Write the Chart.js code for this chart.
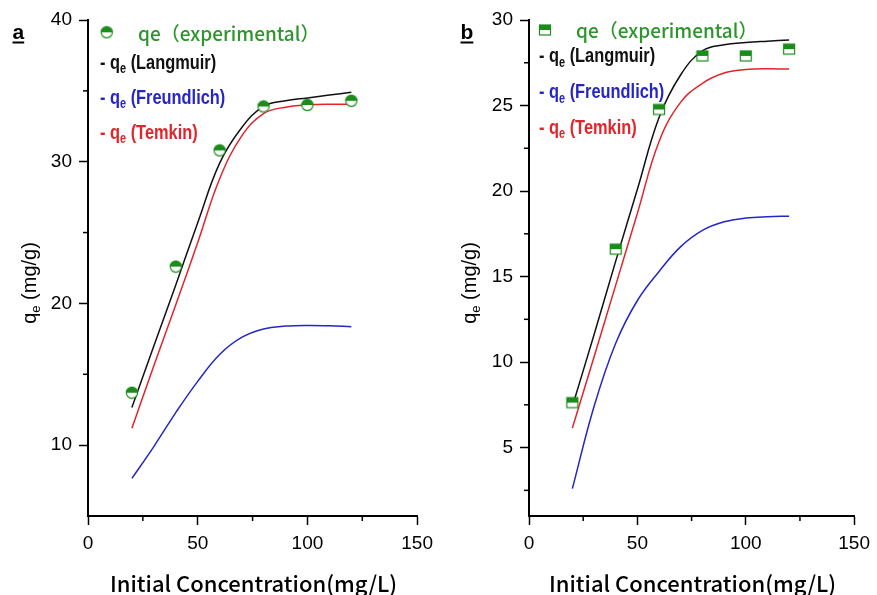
<!DOCTYPE html>
<html>
<head>
<meta charset="utf-8">
<script src="https://cdn.jsdelivr.net/npm/chart.js@4.4.1/dist/chart.umd.min.js"></script>
<style>
html, body { margin: 0; padding: 0; background: #fff; }
#wrap { position: relative; width: 877px; height: 595px; }
.pane { position: absolute; top: 0; }
#pa { left: 0; }
#pb { left: 440px; }
</style>
</head>
<body>
<div id="wrap">
  <div class="pane" id="pa"><canvas id="chartA" width="440" height="595"></canvas></div>
  <div class="pane" id="pb"><canvas id="chartB" width="437" height="595"></canvas></div>
</div>
<script>
// x values (initial concentration, mg/L)
var xExp = [20, 40, 60, 80, 100, 120];
var xFit = [20, 30, 40, 50, 60, 70, 80, 90, 100, 110, 120];

// panel a
var expA  = [13.7, 22.6, 30.8, 33.9, 34.0, 34.3];
var langA = [12.65, 17.0, 21.3, 25.7, 29.9, 32.4, 33.9, 34.3, 34.5, 34.7, 34.9];
var freuA = [7.65, 9.9, 12.3, 14.5, 16.4, 17.6, 18.2, 18.4, 18.45, 18.42, 18.36];
var temkA = [11.2, 15.6, 19.9, 24.3, 28.8, 31.8, 33.4, 33.85, 34.0, 34.05, 34.05];

// panel b
var expB  = [7.63, 16.6, 24.77, 27.9, 27.9, 28.3];
var langB = [7.4, 11.6, 15.9, 20.1, 24.3, 26.8, 28.2, 28.55, 28.68, 28.76, 28.83];
var freuB = [2.6, 7.4, 11.1, 13.6, 15.3, 16.75, 17.7, 18.2, 18.42, 18.5, 18.53];
var temkB = [6.14, 10.3, 14.5, 18.7, 22.9, 25.2, 26.3, 26.9, 27.1, 27.15, 27.13];

// ticks
var xTicks = [0, 50, 100, 150];
var xMinor = [25, 75, 125];
var yTicksA = [10, 20, 30, 40];
var yMinorA = [15, 25, 35];
var yTicksB = [5, 10, 15, 20, 25, 30];
var yMinorB = [2.5, 7.5, 12.5, 17.5, 22.5, 27.5];

var fitNames = ['Langmuir', 'Freundlich', 'Temkin'];
var xTitle = 'Initial Concentration(mg/L)';

var green = '#1b8c1b';
var greenText = '#2c962c';
var blue = '#2626c6';
var red = '#e2252b';
var tickFont = '"Liberation Sans", Arial, sans-serif';
var cjkFont = '"Noto Sans CJK JP", "Noto Sans", sans-serif';

function markerCanvas(kind) {
  var c = document.createElement('canvas');
  c.width = 14; c.height = 14;
  var g = c.getContext('2d');
  g.lineWidth = 1.2;
  g.strokeStyle = green;
  g.fillStyle = '#fff';
  if (kind === 'circle') {
    g.beginPath(); g.arc(7, 7, 5.6, 0, Math.PI * 2); g.fill();
    g.fillStyle = green;
    g.beginPath(); g.arc(7, 7, 5.6, Math.PI, 0); g.closePath(); g.fill();
    g.beginPath(); g.arc(7, 7, 5.6, 0, Math.PI * 2); g.stroke();
  } else {
    g.fillRect(1.5, 2, 11, 10);
    g.fillStyle = green;
    g.fillRect(1.5, 2, 11, 5);
    g.strokeRect(1.5, 2, 11, 10);
  }
  return c;
}

function pts(xs, ys) {
  return xs.map(function (x, i) { return { x: x, y: ys[i] }; });
}

// narrow bold text: Liberation Sans squeezed horizontally
function narrowText(ctx, txt, x, y, size) {
  ctx.font = 'bold ' + size + 'px ' + tickFont;
  var w = ctx.measureText(txt).width * 0.78;
  ctx.save();
  ctx.translate(x, y);
  ctx.scale(0.78, 1);
  ctx.fillText(txt, 0, 0);
  ctx.restore();
  return w;
}

// titles, legend, minor ticks and panel letter
var annot = {
  id: 'annot',
  afterDraw: function (chart, args, o) {
    var ctx = chart.ctx, xs = chart.scales.x, ys = chart.scales.y, ca = chart.chartArea;
    ctx.save();
    ctx.strokeStyle = '#000';
    ctx.lineWidth = 1.5;
    o.xMinor.forEach(function (v) {
      var p = xs.getPixelForValue(v);
      ctx.beginPath(); ctx.moveTo(p, xs.top); ctx.lineTo(p, xs.top + 5); ctx.stroke();
    });
    o.yMinor.forEach(function (v) {
      var p = ys.getPixelForValue(v);
      ctx.beginPath(); ctx.moveTo(ys.right, p); ctx.lineTo(ys.right - 5, p); ctx.stroke();
    });

    // panel letter
    ctx.fillStyle = '#000';
    ctx.textAlign = 'left';
    ctx.textBaseline = 'alphabetic';
    ctx.font = 'bold 21px ' + tickFont;
    ctx.fillText(o.letter, o.letterX, 39);
    ctx.fillRect(o.letterX, 41.5, ctx.measureText(o.letter).width, 2);

    // x title
    ctx.save();
    ctx.font = '500 22px ' + cjkFont;
    ctx.textAlign = 'center';
    ctx.textBaseline = 'middle';
    ctx.fillText(xTitle, (ca.left + ca.right) / 2 + 1, 584);
    ctx.restore();

    // y title with subscript
    ctx.save();
    ctx.translate(36, 283);
    ctx.rotate(-Math.PI / 2);
    ctx.font = '20px ' + tickFont;
    var wq = ctx.measureText('q').width;
    var wr = ctx.measureText(' (mg/g)').width;
    ctx.font = '13px ' + tickFont;
    var we = ctx.measureText('e').width;
    var x0 = -(wq + we + wr) / 2;
    ctx.font = '20px ' + tickFont;
    ctx.fillText('q', x0, 0);
    ctx.font = '13px ' + tickFont;
    ctx.fillText('e', x0 + wq, 4);
    ctx.font = '20px ' + tickFont;
    ctx.fillText(' (mg/g)', x0 + wq + we, 0);
    ctx.restore();

    // legend
    var m = o.marker;
    ctx.drawImage(m, o.legX0 - m.width / 2, o.legY0 - m.height / 2);
    ctx.textBaseline = 'middle';
    ctx.fillStyle = greenText;
    ctx.font = '500 19px ' + cjkFont;
    ctx.fillText('qe（experimental）', o.legTextX, o.legY0 + 1);

    var colors = ['#111', blue, red];
    fitNames.forEach(function (name, i) {
      var y = o.legRows[i];
      var x = o.legX;
      ctx.fillStyle = colors[i];
      x += narrowText(ctx, '- q', x, y, 21);
      x += narrowText(ctx, 'e', x, y + 6, 14);
      narrowText(ctx, ' (' + name + ')', x, y, 21);
    });
    ctx.restore();
  }
};

function makeChart(id, p) {
  var lineDs = function (data, color) {
    return {
      type: 'line', data: data, borderColor: color, borderWidth: 1.5,
      pointRadius: 0, fill: false, tension: 0.4
    };
  };
  return new Chart(document.getElementById(id), {
    type: 'scatter',
    data: {
      datasets: [
        { data: pts(xExp, p.exp), pointStyle: p.marker, pointRadius: 6, showLine: false },
        lineDs(pts(xFit, p.lang), '#111'),
        lineDs(pts(xFit, p.freu), blue),
        lineDs(pts(xFit, p.temk), red)
      ]
    },
    options: {
      responsive: false,
      animation: false,
      layout: { padding: { left: 0, right: p.padRight, top: 20, bottom: 0 } },
      plugins: {
        legend: { display: false },
        tooltip: { enabled: false },
        annot: {
          letter: p.letter, letterX: p.letterX, marker: p.marker,
          xMinor: xMinor, yMinor: p.yMinor,
          legX0: p.legX0, legY0: p.legY0, legTextX: p.legTextX,
          legX: p.legX, legRows: p.legRows
        }
      },
      scales: {
        x: {
          type: 'linear', min: 0, max: 150,
          afterBuildTicks: function (s) { s.ticks = xTicks.map(function (v) { return { value: v }; }); },
          afterFit: function (s) { s.height = 79; },
          grid: { drawOnChartArea: false, tickLength: 9, tickWidth: 1.5, tickColor: '#000' },
          border: { color: '#000', width: 2 },
          ticks: { color: '#000', font: { family: tickFont, size: 19 }, padding: 7, maxRotation: 0, autoSkip: false }
        },
        y: {
          type: 'linear', min: p.yMin, max: p.yMax,
          afterBuildTicks: function (s) { s.ticks = p.yTicks.map(function (v) { return { value: v }; }); },
          afterFit: function (s) { s.width = p.yWidth; },
          grid: { drawOnChartArea: false, tickLength: 9, tickWidth: 1.5, tickColor: '#000' },
          border: { color: '#000', width: 2 },
          ticks: { color: '#000', font: { family: tickFont, size: 19 }, padding: 7, autoSkip: false }
        }
      }
    },
    plugins: [annot]
  });
}

makeChart('chartA', {
  exp: expA, lang: langA, freu: freuA, temk: temkA,
  yMin: 5, yMax: 40, yTicks: yTicksA, yMinor: yMinorA,
  yWidth: 88, padRight: 20, letter: 'a', letterX: 12.5,
  marker: markerCanvas('circle'),
  legX0: 106.7, legY0: 32.3, legTextX: 138,
  legX: 100, legRows: [63.3, 98.3, 133.3]
});

makeChart('chartB', {
  exp: expB, lang: langB, freu: freuB, temk: temkB,
  yMin: 1, yMax: 30, yTicks: yTicksB, yMinor: yMinorB,
  yWidth: 89, padRight: 16, letter: 'b', letterX: 20.5,
  marker: markerCanvas('square'),
  legX0: 105, legY0: 30, legTextX: 136,
  legX: 99, legRows: [56.7, 92.7, 128.3]
});
</script>
</body>
</html>
